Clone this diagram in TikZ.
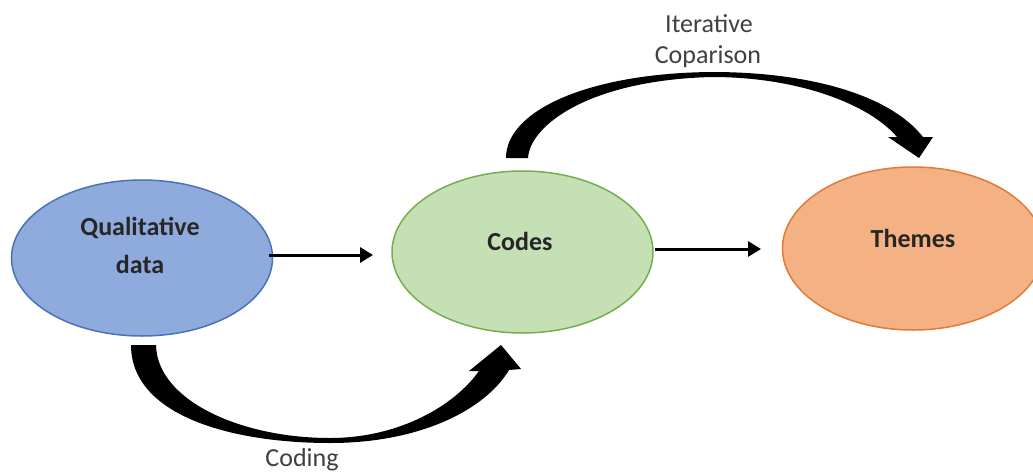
\documentclass[tikz,border=0pt]{standalone}
\usepackage{fontspec}
\setmainfont{Carlito}
\usetikzlibrary{arrows.meta,shapes.geometric,calc}
\definecolor{qfill}{HTML}{8FAADC}
\definecolor{qline}{HTML}{4A72B8}
\definecolor{cfill}{HTML}{C5E0B4}
\definecolor{cline}{HTML}{75AE4E}
\definecolor{tfill}{HTML}{F4B183}
\definecolor{tline}{HTML}{E27B38}
\definecolor{txt}{HTML}{262626}
\definecolor{lbl}{HTML}{404040}
\tikzset{
  blob/.style={ellipse, inner sep=0pt, outer sep=0pt, line width=1.5pt},
  bold label/.style={anchor=base, inner sep=0pt, text=txt, font=\fontsize{26}{30}\selectfont\bfseries},
  plain label/.style={anchor=base, inner sep=0pt, text=lbl, font=\fontsize{26}{30}\selectfont},
  flow/.style={line width=3pt, -{Triangle[length=13pt,width=15pt]}},
  bigarrow/.style={fill=black, draw=none}
}
\begin{document}
\begin{tikzpicture}[x=1pt,y=-1pt]
\useasboundingbox (0,0) rectangle (1033,474);
\fill[white] (0,0) rectangle (1033,474);
% ellipses
\node[blob, fill=qfill, draw=qline, minimum width=261pt, minimum height=156pt] (qual) at (142,258) {};
\node[blob, fill=cfill, draw=cline, minimum width=261pt, minimum height=162pt] (codes) at (522.5,252) {};
\node[blob, fill=tfill, draw=tline, minimum width=261pt, minimum height=163pt] (themes) at (913,248.5) {};
% texts
\node[bold label] (qualtext1) at (140,235) {Qualitative};
\node[bold label] (qualtext2) at (140,273) {data};
\node[bold label] (codestext) at (520,250) {Codes};
\node[bold label] (themestext) at (913,247) {Themes};
\node[plain label] (iter1) at (709,32) {Iterative};
\node[plain label] (iter2) at (708,63) {Coparison};
\node[plain label] (coding) at (302,466) {Coding};
% straight arrows
\draw[flow] ($(qual.east)+(-4,-3)$) -- ($(codes.west)+(-19,3)$);
\draw[flow] ($(codes.east)+(2,-3)$) -- ($(themes.west)+(-21.5,0.5)$);
% bottom curved arrow (Coding)
\fill[bigarrow] (131,345) -- (156,345)
  .. controls (157,400) and (240,438) .. (330,438)
  .. controls (400,438) and (455,405) .. (479,371)
  -- (469,371) -- (501,345) -- (521,369) -- (509,370)
  .. controls (485,410) and (420,443) .. (330,443)
  .. controls (230,443) and (131,415) .. (131,345) -- cycle;
% top curved arrow (Iterative Coparison)
\fill[bigarrow] (506,158) -- (528,158)
  .. controls (530,125) and (590,80) .. (712,77)
  .. controls (800,77) and (870,105) .. (897,137)
  -- (888,137) -- (919,158) -- (933,137) -- (923,137)
  .. controls (890,95) and (810,72) .. (712,72)
  .. controls (590,73) and (506,110) .. (506,158) -- cycle;
\end{tikzpicture}
\end{document}
